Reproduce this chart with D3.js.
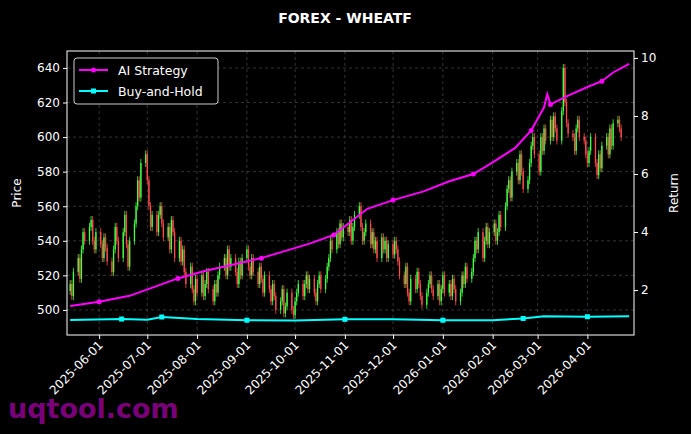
<!DOCTYPE html>
<html><head><meta charset="utf-8">
<script src="https://cdn.jsdelivr.net/npm/d3@7"></script>
<style>body{margin:0;background:#000}svg{display:block}</style></head>
<body><svg id="c" width="691" height="434"></svg>
<script>
const startDate = "2025-05-14";
const closes = [
515,508,522,
530,518,535,545,540, 548,552,540,535,545, 538,530,542,536,528, 522,535,548,540,530,
545,555,538,525,540, 550,560,575,565,585, 590,575,560,548,555, 545,555,560,550,542,
548,535,552,545,530, 540,528,535,522,515, 525,512,505,518,510, 520,508,515,522,512,
505,515,510,520,525, 530,520,535,525,530, 522,515,528,520,530, 535,525,520,530,522,
515,525,518,510,520, 512,505,515,508,500, 505,512,498,502,510, 500,497,505,510,515,
508,515,520,512,518, 510,505,515,520,512, 518,525,530,540,535, 545,538,550,542,548,
545,552,540,548,555, 560,548,540,545,550, 538,545,535,540,530, 542,535,540,530,538,
532,540,535,528,520, 515,525,510,505,518, 512,522,515,508,503, 510,515,520,512,508,
515,505,512,520,510, 515,508,518,512,505, 510,520,515,525,518, 522,530,540,535,545,
530,540,548,538,545, 550,540,545,555,548, 560,570,575,565,580, 585,575,590,580,570,
575,585,595,600,590, 580,600,592,605,598, 610,600,612,605,598, 615,640,620,608,602,
600,592,605,610,600, 598,590,585,592,600, 585,578,590,582,595, 600,590,605,595,608,
610,605,600];
const aiDates = ["2025-05-14","2025-06-01","2025-06-20","2025-07-05","2025-07-20","2025-08-05","2025-08-25","2025-09-10","2025-09-25","2025-10-10","2025-10-25","2025-11-01","2025-11-15","2025-12-01","2025-12-20","2026-01-05","2026-01-20","2026-02-01","2026-02-15","2026-02-25","2026-03-05","2026-03-07","2026-03-09","2026-03-20","2026-04-01","2026-04-10","2026-04-17","2026-04-27"];
const aiValues = [1.45,1.6,1.8,2.1,2.4,2.65,2.9,3.1,3.35,3.6,3.9,4.2,4.8,5.1,5.4,5.75,6.0,6.4,6.9,7.5,8.3,8.75,8.4,8.7,9.0,9.2,9.5,9.8];
const bhDates = ["2025-05-14","2025-06-15","2025-07-01","2025-07-10","2025-08-01","2025-09-01","2025-10-01","2025-11-01","2025-12-01","2026-01-01","2026-02-01","2026-02-20","2026-03-05","2026-04-01","2026-04-27"];
const bhValues = [0.97,1.0,0.98,1.07,1.0,0.96,0.95,0.99,0.99,0.96,0.96,1.02,1.1,1.08,1.1];
const xTicks = ["2025-06-01","2025-07-01","2025-08-01","2025-09-01","2025-10-01","2025-11-01","2025-12-01","2026-01-01","2026-02-01","2026-03-01","2026-04-01"];
const priceTicks = [500,520,540,560,580,600,620,640];
const retTicks = [2,4,6,8,10];

const P = d3.timeParse("%Y-%m-%d");
// weekday dates
const dates = []; let d = P(startDate);
while (dates.length < closes.length) { if (d.getDay()%6!==0) dates.push(new Date(d)); d = d3.timeDay.offset(d,1); }
const svg = d3.select("#c");
const L=67,R=634,T=51,B=335;
const x = d3.scaleTime().domain([P("2025-05-12"),P("2026-04-30")]).range([L,R]);
const y = d3.scaleLinear().domain([485.5,649.8]).range([B,T]);
const y2 = d3.scaleLinear().domain([0.45,10.24]).range([B,T]);
const g = svg.append("g");
// grid
g.selectAll(".gx").data(xTicks).join("line").attr("x1",d=>x(P(d))).attr("x2",d=>x(P(d))).attr("y1",T).attr("y2",B).attr("stroke","#555").attr("stroke-dasharray","3,3").attr("stroke-width",0.6);
g.selectAll(".gy").data(priceTicks).join("line").attr("x1",L).attr("x2",R).attr("y1",d=>y(d)).attr("y2",d=>y(d)).attr("stroke","#555").attr("stroke-dasharray","3,3").attr("stroke-width",0.6);
// candles
const cw=1.3;
closes.forEach((c,i)=>{
  const o = i?closes[i-1]:c-4; const up=c>=o; const col = up?"#44ff44":"#ff4d4d";
  const xx=x(dates[i]);
  g.append("line").attr("x1",xx).attr("x2",xx).attr("y1",y(Math.max(o,c))-4).attr("y2",y(Math.min(o,c))+4).attr("stroke",col).attr("stroke-width",0.8);
  g.append("rect").attr("x",xx-cw/2).attr("width",cw).attr("y",y(Math.max(o,c))).attr("height",Math.max(1,Math.abs(y(o)-y(c)))).attr("fill",col);
});
const line = d3.line().x(d=>x(P(d[0]))).y(d=>y2(d[1]));
const ai = aiDates.map((d,i)=>[d,aiValues[i]]), bh = bhDates.map((d,i)=>[d,bhValues[i]]);
g.append("path").attr("d",line(ai)).attr("fill","none").attr("stroke","#ff00ff").attr("stroke-width",2);
g.append("path").attr("d",line(bh)).attr("fill","none").attr("stroke","#00ffff").attr("stroke-width",2);
g.selectAll(".m1").data(ai.filter((d,i)=>i%3==1)).join("circle").attr("cx",d=>x(P(d[0]))).attr("cy",d=>y2(d[1])).attr("r",2.5).attr("fill","#ff00ff");
g.selectAll(".m2").data(bh.filter((d,i)=>i%2==1)).join("rect").attr("x",d=>x(P(d[0]))-2.5).attr("y",d=>y2(d[1])-2.5).attr("width",5).attr("height",5).attr("fill","#00ffff");
// frame
svg.append("rect").attr("x",L).attr("y",T).attr("width",R-L).attr("height",B-T).attr("fill","none").attr("stroke","#fff").attr("stroke-width",1);
// axes
const ax = svg.append("g").attr("transform",`translate(0,${B})`).call(d3.axisBottom(x).tickValues(xTicks.map(P)).tickFormat(d3.timeFormat("%Y-%m-%d")).tickSize(4));
ax.selectAll("text").attr("transform","rotate(-45)").style("text-anchor","end").attr("dx","-0.4em").attr("dy","0.3em");
const ay = svg.append("g").attr("transform",`translate(${L},0)`).call(d3.axisLeft(y).tickValues(priceTicks).tickSize(4));
const ay2 = svg.append("g").attr("transform",`translate(${R},0)`).call(d3.axisRight(y2).tickValues(retTicks).tickSize(4));
[ax,ay,ay2].forEach(a=>{a.select(".domain").remove();a.selectAll("line").attr("stroke","#fff");a.selectAll("text").attr("fill","#fff").style("font-family","DejaVu Sans").style("font-size","12px");});
svg.append("text").attr("x",345).attr("y",23).attr("text-anchor","middle").attr("fill","#fff").style("font-family","DejaVu Sans").style("font-weight","bold").style("font-size","14px").text("FOREX - WHEATF");
svg.append("text").attr("transform","translate(21,193) rotate(-90)").attr("text-anchor","middle").attr("fill","#fff").style("font-family","DejaVu Sans").style("font-size","12px").text("Price");
svg.append("text").attr("transform","translate(678,193) rotate(-90)").attr("text-anchor","middle").attr("fill","#fff").style("font-family","DejaVu Sans").style("font-size","12px").text("Return");
// legend
const lg = svg.append("g");
lg.append("rect").attr("x",74).attr("y",58).attr("width",144).attr("height",46).attr("rx",3).attr("fill","#000").attr("stroke","#ccc");
[["AI Strategy","#ff00ff","c"],["Buy-and-Hold","#00ffff","s"]].forEach((e,i)=>{
  const yy=70+i*21;
  lg.append("line").attr("x1",79).attr("x2",108).attr("y1",yy).attr("y2",yy).attr("stroke",e[1]).attr("stroke-width",2);
  if(e[2]=="c") lg.append("circle").attr("cx",93.5).attr("cy",yy).attr("r",2.5).attr("fill",e[1]);
  else lg.append("rect").attr("x",91).attr("y",yy-2.5).attr("width",5).attr("height",5).attr("fill",e[1]);
  lg.append("text").attr("x",118).attr("y",yy+4.5).attr("fill","#fff").style("font-family","DejaVu Sans").style("font-size","12.5px").text(e[0]);
});
svg.append("text").attr("x",8).attr("y",418).attr("fill","#8b008b").attr("fill-opacity",0.9).style("font-family","DejaVu Sans").style("font-weight","bold").style("font-size","27px").text("uqtool.com");
</script></body></html>
